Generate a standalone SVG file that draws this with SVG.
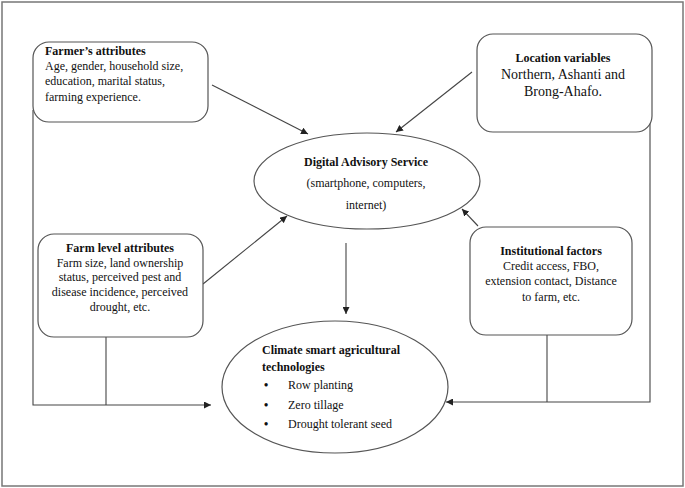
<svg xmlns="http://www.w3.org/2000/svg" width="685" height="488" viewBox="0 0 685 488">
<defs>
<style>
.t{font-family:"Liberation Serif","Times New Roman",serif;font-size:12px;fill:#111}
.b{font-weight:bold}
.m{text-anchor:middle}
.box{fill:#fff;stroke:#555;stroke-width:1.2}
.c{fill:none;stroke:#444;stroke-width:1.1}
</style>
<marker id="ah" viewBox="0 0 10 10" refX="10" refY="5" markerWidth="7" markerHeight="7" markerUnits="userSpaceOnUse" orient="auto">
<path d="M0,0 L10,5 L0,10 z" fill="#222"/>
</marker>
</defs>
<rect x="0" y="0" width="685" height="488" fill="#fff"/>
<rect x="2" y="2" width="681" height="484" fill="none" stroke="#777" stroke-width="1.5"/>

<g id="connectors">
<line class="c" x1="212" y1="85" x2="308" y2="134" marker-end="url(#ah)"/>
<line class="c" x1="472" y1="72" x2="396" y2="132" marker-end="url(#ah)"/>
<line class="c" x1="203" y1="284" x2="287" y2="216" marker-end="url(#ah)"/>
<line class="c" x1="478" y1="226" x2="462" y2="209" marker-end="url(#ah)"/>
<line class="c" x1="346" y1="243" x2="346" y2="314" marker-end="url(#ah)"/>
<polyline class="c" points="33,110 33,405 211,405" marker-end="url(#ah)"/>
<line class="c" x1="106" y1="337" x2="106" y2="405"/>
<polyline class="c" points="650,118 650,402 446,402" marker-end="url(#ah)"/>
<line class="c" x1="547" y1="335" x2="547" y2="402"/>
</g>

<g id="farmer">
<rect class="box" x="33" y="42" width="175" height="80" rx="16"/>
<text class="t b" x="45" y="55">Farmer’s attributes</text>
<text class="t" x="45" y="70">Age, gender, household size,</text>
<text class="t" x="45" y="85">education, marital status,</text>
<text class="t" x="45" y="101">farming experience.</text>
</g>

<g id="location">
<rect class="box" x="477" y="34" width="175" height="98" rx="16"/>
<text class="t b m" x="563" y="62">Location variables</text>
<text class="t m" x="563" y="79" style="font-size:14px">Northern, Ashanti and</text>
<text class="t m" x="563" y="96" style="font-size:14px">Brong-Ahafo.</text>
</g>

<g id="digital">
<ellipse class="box" cx="367" cy="181" rx="113" ry="48"/>
<text class="t b m" x="366" y="166">Digital Advisory Service</text>
<text class="t m" x="366" y="187">(smartphone, computers,</text>
<text class="t m" x="366" y="209">internet)</text>
</g>

<g id="farmlevel">
<rect class="box" x="38" y="234" width="165" height="103" rx="16"/>
<text class="t b m" x="120" y="252">Farm level attributes</text>
<text class="t m" x="120" y="267">Farm size, land ownership</text>
<text class="t m" x="120" y="281">status, perceived pest and</text>
<text class="t m" x="120" y="296">disease incidence, perceived</text>
<text class="t m" x="120" y="311">drought, etc.</text>
</g>

<g id="institutional">
<rect class="box" x="470" y="227" width="162" height="108" rx="16"/>
<text class="t b m" x="551" y="255">Institutional factors</text>
<text class="t m" x="551" y="270">Credit access, FBO,</text>
<text class="t m" x="551" y="285">extension contact, Distance</text>
<text class="t m" x="551" y="301">to farm, etc.</text>
</g>

<g id="climate">
<ellipse class="box" cx="335" cy="387" rx="113" ry="66"/>
<text class="t b" x="262" y="354">Climate smart agricultural</text>
<text class="t b" x="262" y="371">technologies</text>
<text class="t b" x="264" y="389">•</text>
<text class="t" x="288" y="389">Row planting</text>
<text class="t b" x="264" y="409">•</text>
<text class="t" x="288" y="409">Zero tillage</text>
<text class="t b" x="264" y="428">•</text>
<text class="t" x="288" y="428">Drought tolerant seed</text>
</g>
</svg>
